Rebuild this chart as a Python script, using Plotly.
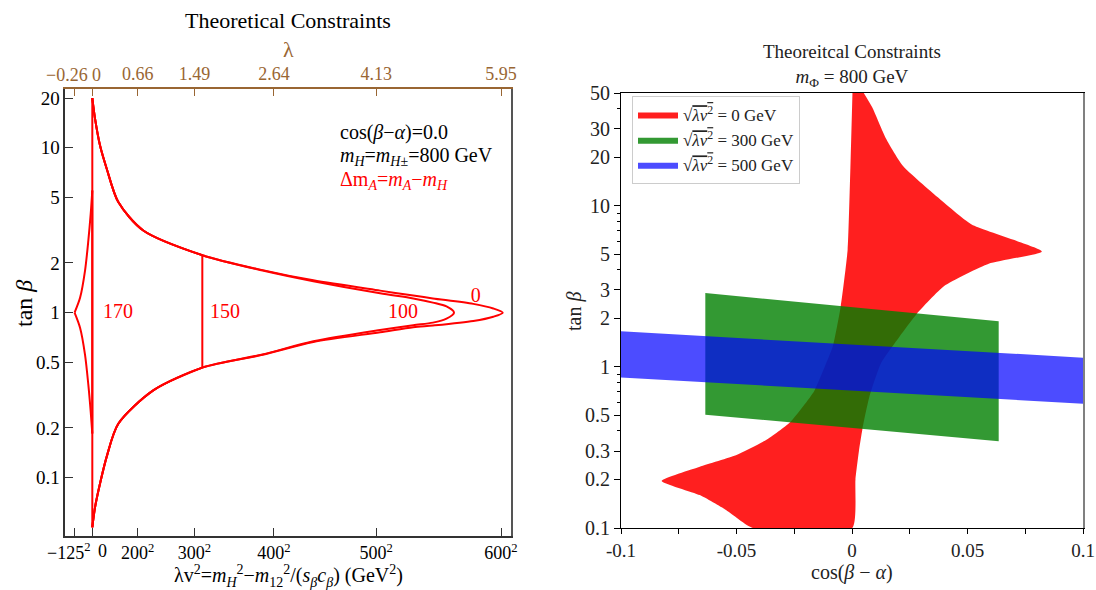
import plotly.graph_objects as go

SERIF = "Liberation Serif, Times New Roman, serif"
BROWN = "#996633"

# ---------------- Left panel data (λv² in GeV², tanβ) ----------------
# Δm_A = 0 contour: upper branch -> tip -> lower branch
dm0_lv2 = [0, 2400, 6800, 12700, 22900, 44900, 96900, 150000, 194700, 253500, 282700, 300000,
           335600, 353200, 361500, 353200, 335600, 300000, 282700, 253500, 194700, 150000, 96900,
           53700, 22900, 12700, 6800, 2400, 0]
dm0_tanb = [20, 15, 10.3, 7.46, 4.68, 3.15, 2.23, 1.81, 1.57, 1.36, 1.27, 1.22,
            1.13, 1.06, 1.0, 0.945, 0.89, 0.835, 0.815, 0.76, 0.664, 0.555, 0.464,
            0.338, 0.212, 0.134, 0.092, 0.066, 0.05]
# Δm_A = 100 contour
dm100_lv2 = [0, 2400, 6800, 12700, 22900, 44900, 96900, 150000, 194700, 253500, 282700, 300000,
             312000, 318600, 312000, 300000, 282700, 253500, 194700, 150000, 96900,
             53700, 22900, 12700, 6800, 2400, 0]
dm100_tanb = [20, 15, 10.3, 7.46, 4.68, 3.15, 2.23, 1.80, 1.55, 1.31, 1.22, 1.15,
              1.09, 1.0, 0.92, 0.87, 0.84, 0.785, 0.67, 0.558, 0.464,
              0.338, 0.212, 0.134, 0.092, 0.066, 0.05]
# Δm_A = 150 contour: upper branch, cut line, lower branch
dm150_up_lv2 = [0, 2400, 6800, 12700, 22900, 44900, 96900]
dm150_up_tanb = [20, 15, 10.3, 7.46, 4.68, 3.15, 2.23]
dm150_cut_lv2 = [96900, 96900]
dm150_cut_tanb = [2.23, 0.464]
dm150_lo_lv2 = [96900, 53700, 22900, 12700, 6800, 2400, 0]
dm150_lo_tanb = [0.464, 0.338, 0.212, 0.134, 0.092, 0.066, 0.05]
# λv² = 0 edge (shared by the contours)
edge_lv2 = [0, 0]
edge_tanb = [0.05, 20]
# Δm_A = 170 contour: cusp
dm170_up_lv2 = [0, -1400, -3500, -6400, -10800, -15625]
dm170_up_tanb = [5.5, 3.98, 2.73, 1.8, 1.23, 1.0]
dm170_lo_lv2 = [-15625, -10800, -6400, -3500, -1400, 0]
dm170_lo_tanb = [1.0, 0.81, 0.555, 0.366, 0.25, 0.185]
dm170_edge_lv2 = [0, 0]
dm170_edge_tanb = [0.185, 5.5]

curve_labels = ["170", "150", "100", "0"]
curve_label_x = [22700, 116900, 273700, 337700]
curve_label_y = [0.99, 0.99, 0.99, 1.24]

left_xtick_vals = [-15625, 0, 40000, 90000, 160000, 250000, 360000]
left_xtick_text = ["−125<sup>2</sup>", "0", "200<sup>2</sup>", "300<sup>2</sup>",
                   "400<sup>2</sup>", "500<sup>2</sup>", "600<sup>2</sup>"]
lambda_tick_text = ["−0.26", "0", "0.66", "1.49", "2.64", "4.13", "5.95"]
crowded_ticks = 2          # the first two labels sit side by side and are nudged apart
crowded_shift = [-6, 10]   # bottom label nudges (px)
crowded_shift_top = [-8, 4]
left_ytick_vals = [0.1, 0.2, 0.5, 1, 2, 5, 10, 20]
left_ytick_text = ["0.1", "0.2", "0.5", "1", "2", "5", "10", "20"]

# ---------------- Right panel data (cos(β−α), tanβ) ----------------
red_cba = [0.0002, -0.0009, -0.0019, -0.0049, -0.0083, -0.0118, -0.0164, -0.0268, -0.0372, -0.050,
           -0.0659, -0.0824, -0.0659, -0.0544, -0.0429, 0.0001, 0.0015, 0.003, 0.0045, 0.0075,
           0.0125, 0.0207, 0.028, 0.0399, 0.0592, 0.0822, 0.0518, 0.037, 0.0221, 0.0147, 0.0088, 0.0051]
red_tanb = [50, 13.7, 5.3, 2.36, 1.34, 1.0, 0.706, 0.453, 0.351, 0.284,
            0.24, 0.196, 0.160, 0.129, 0.1, 0.1, 0.2, 0.3, 0.41, 0.65,
            1.05, 1.55, 2.13, 3.17, 4.36, 5.2, 7.63, 11.3, 17.6, 26.1, 40.6, 50]

green_cba = [-0.0635, -0.0635, 0.0635, 0.0635]
green_tanb = [0.505, 2.87, 1.92, 0.345]

blue_cba = [-0.1, -0.1, 0.1, 0.1]
blue_tanb = [0.86, 1.66, 1.14, 0.59]

right_xtick_vals = [-0.1, -0.075, -0.05, -0.025, 0, 0.025, 0.05, 0.075, 0.1]
right_xtick_text = ["-0.1", "", "-0.05", "", "0", "", "0.05", "", "0.1"]
right_ytick_vals = [0.1, 0.2, 0.3, 0.5, 1, 2, 3, 5, 10, 20, 30, 50]
right_ytick_text = ["0.1", "0.2", "0.3", "0.5", "1", "2", "3", "5", "10", "20", "30", "50"]
right_yminor_vals = [0.4, 0.6, 0.7, 0.8, 0.9, 4, 6, 7, 8, 9, 40]

OVL = "<span style='text-decoration:overline'><i>λv</i><sup>2</sup></span>"
legend_names = ["√" + OVL + " = 0 GeV", "√" + OVL + " = 300 GeV", "√" + OVL + " = 500 GeV"]

W, H = 1096, 590
def px(x):
    return x / W
def py(y):
    return 1 - y / H

fig = go.Figure()

def red_line(xs, ys, shape):
    fig.add_trace(go.Scatter(x=xs, y=ys, mode="lines",
                             line=dict(color="#ff0000", width=2, shape=shape, smoothing=0.8),
                             xaxis="x", yaxis="y", showlegend=False, hoverinfo="skip"))

red_line(edge_lv2, edge_tanb, "linear")
red_line(dm0_lv2, dm0_tanb, "spline")
red_line(dm100_lv2, dm100_tanb, "spline")
red_line(dm150_up_lv2, dm150_up_tanb, "spline")
red_line(dm150_cut_lv2, dm150_cut_tanb, "linear")
red_line(dm150_lo_lv2, dm150_lo_tanb, "spline")
red_line(dm170_up_lv2, dm170_up_tanb, "spline")
red_line(dm170_lo_lv2, dm170_lo_tanb, "spline")
red_line(dm170_edge_lv2, dm170_edge_tanb, "linear")

fig.add_trace(go.Scatter(x=curve_label_x, y=curve_label_y, mode="text", text=curve_labels,
                         textfont=dict(family=SERIF, size=20, color="#ff0000"),
                         xaxis="x", yaxis="y", showlegend=False, hoverinfo="skip"))

# dummy traces for overlay axes
fig.add_trace(go.Scatter(x=[None], y=[None], xaxis="x3", yaxis="y", showlegend=False, hoverinfo="skip"))
fig.add_trace(go.Scatter(x=[None], y=[None], xaxis="x", yaxis="y3", showlegend=False, hoverinfo="skip"))
fig.add_trace(go.Scatter(x=[None], y=[None], xaxis="x2", yaxis="y4", showlegend=False, hoverinfo="skip"))

fig.add_trace(go.Scatter(x=red_cba, y=red_tanb, mode="lines", fill="toself",
                         fillcolor="rgba(255,0,0,0.88)",
                         line=dict(width=0, color="rgba(255,0,0,0.88)", shape="spline", smoothing=0.5),
                         name=legend_names[0], xaxis="x2", yaxis="y2", hoverinfo="skip"))
fig.add_trace(go.Scatter(x=green_cba, y=green_tanb, mode="lines", fill="toself",
                         fillcolor="rgba(0,128,0,0.8)", line=dict(width=0, color="rgba(0,128,0,0.8)"),
                         name=legend_names[1], xaxis="x2", yaxis="y2", hoverinfo="skip"))
fig.add_trace(go.Scatter(x=blue_cba, y=blue_tanb, mode="lines", fill="toself",
                         fillcolor="rgba(0,0,255,0.7)", line=dict(width=0, color="rgba(0,0,255,0.7)"),
                         name=legend_names[2], xaxis="x2", yaxis="y2", hoverinfo="skip"))

left_xrange = [-23700, 369150]
left_yrange = [-1.354, 1.354]
left_xdom = [px(65.4), px(511.4)]
left_ydom = [py(536), py(89.3)]
right_xdom = [px(621), px(1083)]
right_ydom = [py(528), py(93)]

common = dict(showgrid=False, zeroline=False, automargin=False)

# tick labels: the two crowded ones are drawn as nudged annotations below
bottom_text = [""] * crowded_ticks + left_xtick_text[crowded_ticks:]
top_text = [""] * crowded_ticks + lambda_tick_text[crowded_ticks:]

fig.update_layout(
    width=W, height=H, autosize=False,
    margin=dict(l=0, r=0, t=0, b=0, autoexpand=False),
    paper_bgcolor="white", plot_bgcolor="white",
    font=dict(family=SERIF, color="black"),
    xaxis=dict(domain=left_xdom, range=left_xrange, anchor="y", **common,
               showline=True, linecolor="#333333", linewidth=1.5, ticks="inside", ticklen=8,
               tickcolor="#333333", tickwidth=1.3, tickvals=left_xtick_vals, ticktext=bottom_text,
               tickangle=0, tickfont=dict(family=SERIF, size=18, color="black")),
    xaxis3=dict(overlaying="x", side="top", anchor="y", range=left_xrange, **common,
                showline=True, linecolor=BROWN, linewidth=1.5, ticks="inside", ticklen=7,
                tickcolor=BROWN, tickwidth=1.3, tickvals=left_xtick_vals, ticktext=top_text,
                tickangle=0, tickfont=dict(family=SERIF, size=18, color=BROWN)),
    yaxis=dict(domain=left_ydom, type="log", range=left_yrange, anchor="x", **common,
               showline=True, linecolor="#333333", linewidth=1.5, ticks="inside", ticklen=8,
               tickcolor="#333333", tickwidth=1.3, tickvals=left_ytick_vals, ticktext=left_ytick_text,
               tickfont=dict(family=SERIF, size=19, color="black")),
    yaxis3=dict(overlaying="y", side="right", anchor="x", type="log", range=left_yrange, **common,
                showline=True, linecolor="#555555", linewidth=2, ticks="", showticklabels=False),
    xaxis2=dict(domain=right_xdom, range=[-0.1, 0.1], anchor="y2", **common,
                showline=True, mirror=True, linecolor="black", linewidth=1.2, ticks="outside", ticklen=5,
                tickcolor="black", tickwidth=1, tickvals=right_xtick_vals, ticktext=right_xtick_text,
                tickangle=0, ticklabeloverflow="allow", tickfont=dict(family=SERIF, size=19, color="#222")),
    yaxis2=dict(domain=right_ydom, type="log", range=[-1, 1.69897], anchor="x2", **common,
                showline=True, linecolor="black", linewidth=1.2, ticks="outside", ticklen=6,
                tickcolor="black", tickwidth=1, tickvals=right_ytick_vals, ticktext=right_ytick_text,
                tickfont=dict(family=SERIF, size=20, color="#222"),
                minor=dict(ticks="outside", ticklen=3, tickcolor="black", tickvals=right_yminor_vals)),
    yaxis4=dict(overlaying="y2", side="right", anchor="x2", type="log", range=[-1, 1.69897], **common,
                showline=True, linecolor="#808080", linewidth=2, ticks="", showticklabels=False),
    legend=dict(x=px(632), y=py(96), xanchor="left", yanchor="top", bgcolor="white",
                bordercolor="#cccccc", borderwidth=1, font=dict(family=SERIF, size=17, color="#222"),
                itemwidth=40, tracegroupgap=0),
    showlegend=True,
)

ann = []
def A(text, x, y, size, color="black", xanchor="center", angle=0):
    ann.append(dict(text=text, x=px(x), y=py(y), xref="paper", yref="paper", showarrow=False,
                    xanchor=xanchor, yanchor="middle", textangle=angle,
                    font=dict(family=SERIF, size=size, color=color)))

for i in range(crowded_ticks):
    ann.append(dict(text=left_xtick_text[i], x=left_xtick_vals[i], xref="x", y=py(551), yref="paper",
                    showarrow=False, xanchor="center", yanchor="middle", xshift=crowded_shift[i],
                    font=dict(family=SERIF, size=18, color="black")))
    ann.append(dict(text=lambda_tick_text[i], x=left_xtick_vals[i], xref="x", y=py(75), yref="paper",
                    showarrow=False, xanchor="center", yanchor="middle", xshift=crowded_shift_top[i],
                    font=dict(family=SERIF, size=18, color=BROWN)))

A("Theoretical Constraints", 288, 20, 22)
A("λ", 288, 49, 22, color=BROWN)
A("λv<sup>2</sup>=<i>m</i><sub><i>H</i></sub><sup>2</sup>−<i>m</i><sub>12</sub><sup>2</sup>/(<i>s</i><sub><i>β</i></sub><i>c</i><sub><i>β</i></sub>) (GeV<sup>2</sup>)",
  288, 576, 20)
A("tan <i>β</i>", 24, 304, 24, angle=-90)
A("cos(<i>β</i>−<i>α</i>)=0.0", 338, 132, 20, xanchor="left")
A("<i>m</i><sub><i>H</i></sub>=<i>m</i><sub><i>H</i>±</sub>=800 GeV", 338, 156, 20, xanchor="left")
A("Δm<sub><i>A</i></sub>=<i>m</i><sub><i>A</i></sub>−<i>m</i><sub><i>H</i></sub>", 338, 181, 20,
  color="#ff0000", xanchor="left")

A("Theoreitcal Constraints<br><i>m</i><sub>Φ</sub> = 800 GeV", 852, 65, 19, color="#222")
A("cos(<i>β</i> − <i>α</i>)", 852, 572, 20, color="#222")
A("tan <i>β</i>", 574, 312, 20, color="#222", angle=-90)

fig.update_layout(annotations=ann)

fig.write_html("out.html", config={"displayModeBar": False},
               post_script="document.body.style.margin='0px';document.body.style.overflow='hidden';")
